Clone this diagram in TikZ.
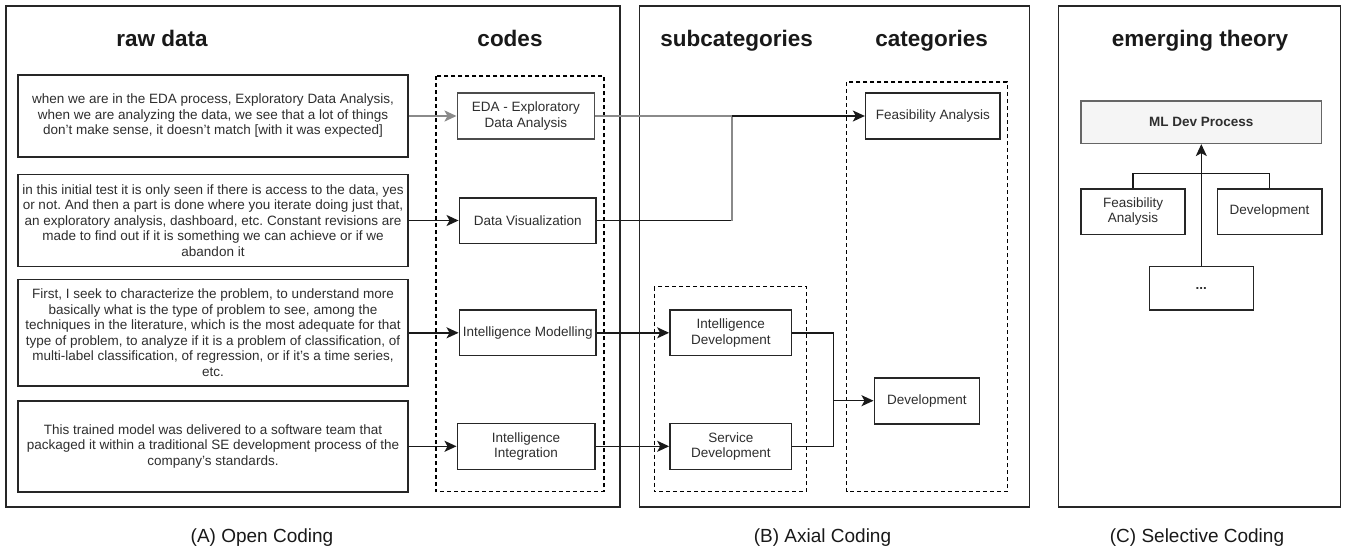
\documentclass[tikz,border=0pt]{standalone}
\usepackage{fontspec}
\setmainfont{Liberation Sans}
\usetikzlibrary{arrows.meta}
\frenchspacing
\definecolor{txt}{HTML}{2E2E2E}
\definecolor{grayline}{HTML}{8A8A8A}
\definecolor{mlfill}{HTML}{F5F5F5}
\definecolor{mldraw}{HTML}{666666}
\begin{document}
\begin{tikzpicture}[x=1pt,y=-1pt,
  panel/.style={draw=black!85, line width=1.5pt},
  grp/.style={draw=black, line width=1.3pt, dash pattern=on 4pt off 3pt},
  box/.style={draw=black!85, line width=1.6pt, inner sep=0pt, align=center, text=txt, font=\fontsize{13.5}{15.5}\selectfont},
  mlbox/.style={box, fill=mlfill, draw=mldraw, font=\bfseries\fontsize{13.5}{15.5}\selectfont},
  title/.style={font=\bfseries\fontsize{22.5}{26}\selectfont, anchor=base, text=black!90},
  capt/.style={font=\fontsize{19}{22}\selectfont, anchor=base, text=black!90},
  conn/.style={line width=1.5pt, draw=black!90},
  arr/.style={conn, -{Stealth[length=12pt,width=11pt,inset=3pt]}},
  gline/.style={line width=2.2pt, draw=grayline},
  garr/.style={gline, -{Stealth[length=12pt,width=11pt,inset=3pt]}},
]
\useasboundingbox (0,0) rectangle (1354,550);
\fill[white] (0,0) rectangle (1354,550);

% panels
\draw[panel] (6,6) rectangle (620,507);
\draw[panel] (639.3,6) rectangle (1029.3,507);
\draw[panel] (1058.7,6) rectangle (1340.7,507);

% titles
\node[title] (traw) at (162,46) {raw data};
\node[title] (tcodes) at (510,46) {codes};
\node[title] (tsub) at (736.7,46) {subcategories};
\node[title] (tcat) at (931.7,46) {categories};
\node[title] (ttheory) at (1200,46) {emerging theory};

% captions
\node[capt] (capA) at (262,542) {(A) Open Coding};
\node[capt] (capB) at (822.5,542) {(B) Axial Coding};
\node[capt] (capC) at (1197,542) {(C) Selective Coding};

% dashed groups
\draw[grp] (436,76) rectangle (604,491.7);
\draw[grp] (654.3,286.7) rectangle (806.7,491.7);
\draw[grp] (846.7,82) rectangle (1007.3,491.7);

% raw data
\node[box, minimum width=390pt, minimum height=82pt] (r1) at (213,116)
 {when we are in the EDA process, Exploratory Data Analysis,\\when we are analyzing the data, we see that a lot of things\\don't make sense, it doesn't match [with it was expected]};
\node[box, minimum width=390pt, minimum height=92pt] (r2) at (213,220.5)
 {in this initial test it is only seen if there is access to the data, yes\\or not. And then a part is done where you iterate doing just that,\\an exploratory analysis, dashboard, etc. Constant revisions are\\made to find out if it is something we can achieve or if we\\abandon it};
\node[box, minimum width=390pt, minimum height=106.7pt] (r3) at (213,332.8)
 {First, I seek to characterize the problem, to understand more\\basically what is the type of problem to see, among the\\techniques in the literature, which is the most adequate for that\\type of problem, to analyze if it is a problem of classification, of\\multi-label classification, of regression, or if it's a time series,\\etc.};
\node[box, minimum width=390pt, minimum height=91pt] (r4) at (213,446.3)
 {This trained model was delivered to a software team that\\packaged it within a traditional SE development process of the\\company's standards.};

% codes
\node[box, draw=black!70, minimum width=137pt, minimum height=46pt] (c1) at (525.8,116) {EDA - Exploratory\\Data Analysis};
\node[box, minimum width=136.7pt, minimum height=45.6pt] (c2) at (527.7,220.5) {Data Visualization};
\node[box, minimum width=136.7pt, minimum height=45.7pt] (c3) at (527.7,332.8) {Intelligence Modelling};
\node[box, minimum width=137.4pt, minimum height=46pt] (c4) at (526,446.3) {Intelligence\\Integration};

% subcategories
\node[box, minimum width=121.7pt, minimum height=45.7pt] (s1) at (730.8,332.8) {Intelligence\\Development};
\node[box, minimum width=121.7pt, minimum height=46pt] (s2) at (730.8,446.3) {Service\\Development};

% categories
\node[box, minimum width=134.3pt, minimum height=45.7pt] (k1) at (932.8,116) {Feasibility Analysis};
\node[box, minimum width=105pt, minimum height=46pt] (k2) at (926.8,400.7) {Development};

% emerging theory
\node[mlbox, minimum width=240.7pt, minimum height=42.6pt] (m) at (1201.3,122) {ML Dev Process};
\node[box, minimum width=104pt, minimum height=45.6pt] (f) at (1133,211.5) {Feasibility\\Analysis};
\node[box, minimum width=104.4pt, minimum height=45.6pt] (d) at (1269.5,211.5) {Development};
\node[box, minimum width=104pt, minimum height=43.3pt, font=\bfseries\fontsize{13.5}{15.5}\selectfont] (e) at (1201.3,288.3) {...};

% connectors: raw data -> codes
\draw[garr] (r1.east) -- (c1.west);
\draw[arr] (r2.east) -- (c2.west);
\draw[arr] (r3.east) -- (c3.west);
\draw[arr] (r4.east) -- (c4.west);

% codes -> categories / subcategories
\coordinate (j1) at (732,116);
\coordinate (j1b) at (732,220.5);
\draw[gline] (c1.east) -- (j1);
\draw[conn] (c2.east) -- (j1b);
\draw[gline] (j1b) -- (j1);
\draw[arr] (j1) -- (k1.west);
\draw[arr] (c3.east) -- (s1.west);
\draw[arr] (c4.east) -- (s2.west);

% subcategories -> categories
\coordinate (j2) at (833.3,400.7);
\draw[conn] (s1.east) -| (j2) |- (s2.east);
\draw[arr] (j2) -- (k2.west);

% theory tree
\coordinate (bl) at (1133,173.3);
\coordinate (br) at (1269.5,173.3);
\draw[conn] (f.north) -- (bl) -- (br) -- (d.north);
\draw[arr] (e.north) -- (m.south);
\end{tikzpicture}
\end{document}
